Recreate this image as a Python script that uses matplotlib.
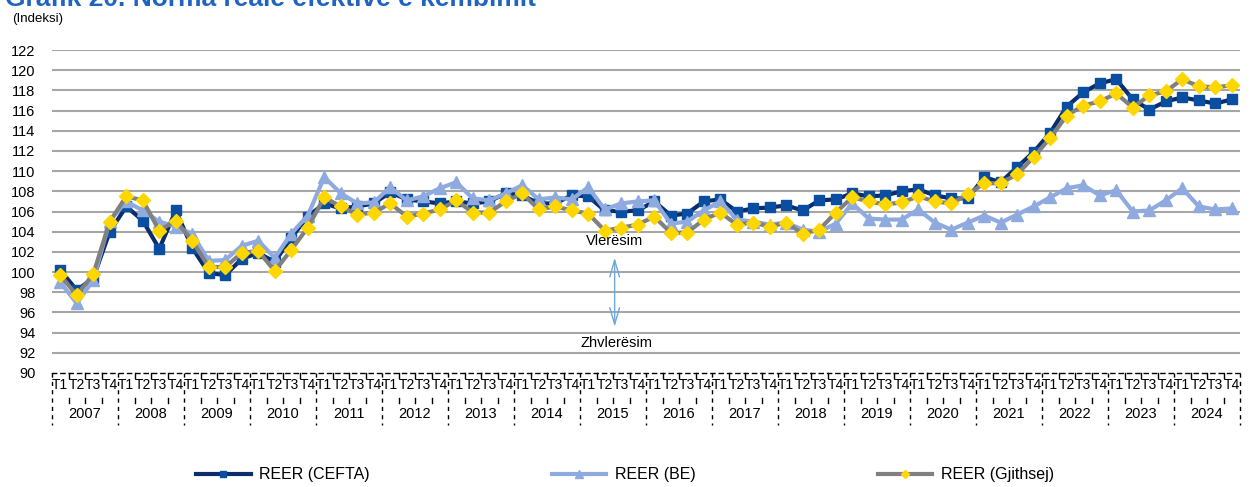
import matplotlib
matplotlib.use("Agg")
import matplotlib.pyplot as plt
import matplotlib.transforms as mtransforms
import numpy as np

plt.rcParams['font.family'] = ['Liberation Sans', 'DejaVu Sans']

years = ["2007", "2008", "2009", "2010", "2011", "2012", "2013", "2014", "2015",
         "2016", "2017", "2018", "2019", "2020", "2021", "2022", "2023", "2024"]
quarters = ["T1", "T2", "T3", "T4"]

reer_cefta = [100.2, 98.2, 99.4, 104.0,
              106.5, 105.1, 102.3, 106.1,
              102.4, 99.9, 99.7, 101.3,
              101.9, 101.0, 103.4, 105.5,
              106.8, 106.3, 106.5, 106.8,
              107.9, 107.2, 107.0, 106.8,
              107.0, 106.8, 107.0, 107.8,
              107.6, 106.8, 106.8, 107.6,
              107.5, 106.1, 106.0, 106.1,
              107.0, 105.6, 105.8, 107.0,
              107.2, 106.0, 106.3, 106.4,
              106.6, 106.1, 107.1, 107.2,
              107.8, 107.5, 107.6, 108.0,
              108.2, 107.6, 107.3, 107.3,
              109.4, 108.9, 110.4, 111.9,
              113.8, 116.4, 117.8, 118.7,
              119.1, 117.1, 116.1, 116.9,
              117.3, 117.0, 116.7, 117.1]

reer_be = [99.0, 96.9, 99.2, 105.1,
           107.0, 106.1, 105.0, 104.5,
           103.8, 101.1, 101.2, 102.6,
           103.1, 101.4, 103.8, 105.6,
           109.4, 107.8, 106.8, 106.9,
           108.4, 107.1, 107.5, 108.3,
           108.9, 107.3, 107.1, 107.8,
           108.6, 107.2, 107.4, 107.2,
           108.4, 106.2, 106.8, 107.0,
           107.1, 104.8, 105.0, 106.1,
           107.0, 105.2, 105.0, 104.7,
           104.9, 104.2, 104.0, 104.8,
           106.8, 105.3, 105.2, 105.2,
           106.2, 104.9, 104.2, 104.9,
           105.6, 104.9, 105.7, 106.5,
           107.4, 108.3, 108.6, 107.6,
           108.1, 106.0, 106.1, 107.1,
           108.3, 106.5, 106.2, 106.3]

reer_gjithsej = [99.7, 97.7, 99.8, 105.0,
                 107.5, 107.1, 104.1, 105.1,
                 103.1, 100.5, 100.5, 101.9,
                 102.1, 100.1, 102.2, 104.4,
                 107.4, 106.5, 105.7, 105.9,
                 106.8, 105.5, 105.8, 106.2,
                 107.1, 105.9, 105.9, 107.0,
                 107.8, 106.2, 106.5, 106.1,
                 105.8, 104.1, 104.4, 104.7,
                 105.5, 103.9, 103.9, 105.2,
                 105.9, 104.7, 104.9, 104.5,
                 104.9, 103.8, 104.2, 105.9,
                 107.4, 107.0, 106.7, 106.9,
                 107.5, 107.0, 106.8, 107.7,
                 108.8, 108.8, 109.7, 111.4,
                 113.3, 115.5, 116.5, 116.9,
                 117.7, 116.3, 117.5, 117.9,
                 119.1, 118.4, 118.3, 118.5]

y_ticks = list(range(90, 123, 2))

W, H = 1258, 487
fig = plt.figure(figsize=(W / 100, H / 100), dpi=100)
ax = fig.add_axes([52 / W, 1 - 373 / H, (1240 - 52) / W, (373 - 50) / H])

n = len(reer_cefta)
x = np.arange(n)

ax.plot(x, reer_cefta, color='#0B2E6B', lw=3.0, marker='s', ms=7.5,
        mfc='#0A4EA2', mec='#0A4EA2', label='REER (CEFTA)', zorder=3)
ax.plot(x, reer_be, color='#8EAADF', lw=3.0, marker='^', ms=9,
        mfc='#8EAADF', mec='#8EAADF', label='REER (BE)', zorder=4)
ax.plot(x, reer_gjithsej, color='#808080', lw=3.0, marker='D', ms=7,
        mfc='#FFD700', mec='#FFD700', label='REER (Gjithsej)', zorder=5)

ax.set_xlim(-0.5, n - 0.5)
ax.set_ylim(90, 122)
ax.set_yticks(y_ticks)
ax.set_yticklabels([str(v) for v in y_ticks], fontsize=10.5)
ax.tick_params(axis='y', length=0, pad=12)
ax.set_xticks([])
for yv in y_ticks[1:]:
    ax.axhline(yv, color='#A6A6A6', lw=1.5, zorder=1)

for s in ['top', 'right', 'left']:
    ax.spines[s].set_visible(False)
ax.spines['bottom'].set_linestyle((0, (3, 3)))
ax.spines['bottom'].set_color('black')
ax.spines['bottom'].set_linewidth(1.0)

trans = mtransforms.blended_transform_factory(ax.transData, ax.transAxes)
px = 1.0 / (373 - 50)
for i in range(n):
    ax.text(i, -12 * px, quarters[i % 4], transform=trans, ha='center', va='center',
            fontsize=10, clip_on=False)
for b in range(n + 1):
    xb = b - 0.5
    if b % 4 == 0:
        ax.plot([xb, xb], [0, -52 * px], transform=trans, color='black', lw=1.0,
                ls=(0, (3, 3)), clip_on=False)
    else:
        ax.plot([xb, xb], [0, -5 * px], transform=trans, color='black', lw=1.0,
                clip_on=False)
        ax.plot([xb, xb], [-25 * px, -30 * px], transform=trans, color='black', lw=1.0,
                clip_on=False)
for k, yr in enumerate(years):
    ax.text(4 * k + 1.5, -41 * px, yr, transform=trans, ha='center', va='center',
            fontsize=10.5, clip_on=False)

# Appreciation / depreciation annotation
ax.annotate('', xy=(33.6, 101.7), xytext=(33.6, 94.3),
            arrowprops=dict(arrowstyle='<->,head_width=0.35,head_length=1.2',
                            color='#6FA8DC', lw=1.0))
ax.text(33.6, 103.1, 'Vlerësim', ha='center', va='center', fontsize=10.5, zorder=6)
ax.text(33.7, 93.0, 'Zhvlerësim', ha='center', va='center', fontsize=10.5, zorder=6)

fig.text(0.004, 1 - 6 / H, 'Grafik 20. Norma reale efektive e këmbimit',
         fontsize=19, fontweight='bold', color='#1F64C0', ha='left', va='baseline')
fig.text(12 / W, 1 - 19 / H, '(Indeksi)', fontsize=9.5, ha='left', va='center')

leg = fig.legend(loc='center', bbox_to_anchor=(0.497, 1 - 475 / H), ncol=3,
                 frameon=False, fontsize=11.5, handlelength=3.4, handletextpad=0.55,
                 columnspacing=11.4, markerscale=0.6)

fig.savefig('out.png', dpi=100)
